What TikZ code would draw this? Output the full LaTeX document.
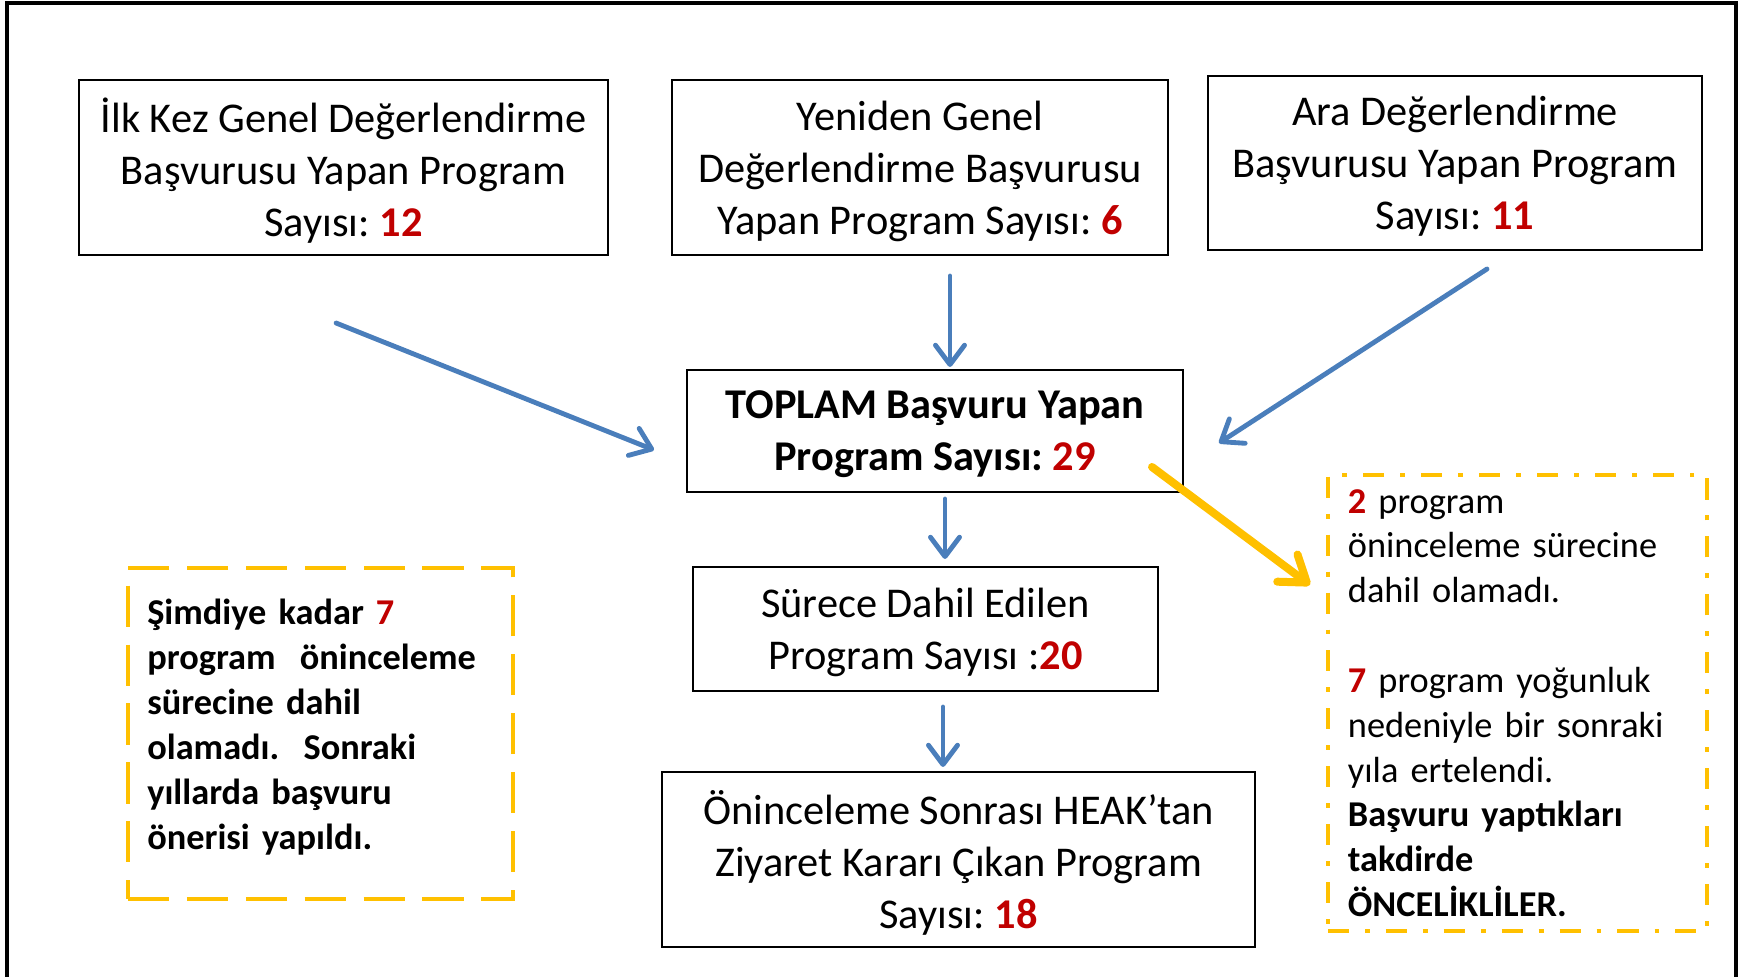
\documentclass[tikz,border=0pt]{standalone}
\usepackage{xcolor}
\usepackage{fontspec}
\setmainfont{Carlito}
\usetikzlibrary{arrows.meta,positioning}
\definecolor{numred}{HTML}{C00000}
\definecolor{flowblue}{HTML}{4A7EBB}
\definecolor{noteyellow}{HTML}{FFC000}
\newcommand{\num}[1]{\textbf{\textcolor{numred}{#1}}}
\frenchspacing

\begin{document}
\begin{tikzpicture}[x=0.4128pt, y=-0.4128pt,
	countbox/.style={draw, line width=0.85pt, align=center, inner sep=0pt, font=\fontsize{17.5}{21.5}\selectfont},
	notebox/.style={draw=noteyellow, line width=1.65pt, align=left, inner sep=0pt, font=\fontsize{15}{18.5}\selectfont},
	flow/.style={draw=flowblue, line width=2pt, line cap=round, -{Straight Barb[round, length=8pt, width=12pt]}},
	skip/.style={draw=noteyellow, line width=3.3pt, line cap=round, -{Straight Barb[round, length=10pt, width=14pt]}}]
				\useasboundingbox (0,0) rectangle (1744,977);
				\draw[line width=1.65pt] (7,977) -- (7,3) -- (1736,3) -- (1736,977);

				% applications
				\node[countbox, minimum width=218.4pt, minimum height=72.2pt] (firstapp) at (343.5,167.5) {İlk Kez Genel Değerlendirme\\ Başvurusu Yapan Program\\ \smash{Sayısı: \num{12}}};
				\node[countbox, minimum width=204.7pt, minimum height=72.2pt] (reapp) at (920,167.5) {Yeniden Genel\\ Değerlendirme Başvurusu\\ \smash{Yapan Program Sayısı: \num{6}}};
				\node[countbox, minimum width=203.9pt, minimum height=71.8pt] (midapp) at (1455,163) {Ara Değerlendirme\\ Başvurusu Yapan Program\\ \smash{Sayısı: \num{11}}};

				\node[countbox, minimum width=204.7pt, minimum height=50.4pt, font=\fontsize{17.5}{21.5}\selectfont\bfseries] (total) at (935,431) {TOPLAM Başvuru Yapan\\ \smash{Program Sayısı: \num{29}}};
				\node[countbox, minimum width=192pt, minimum height=51.2pt] (included) at (925.5,629) {Sürece Dahil Edilen\\ \smash{Program Sayısı :\num{20}}};
				\node[countbox, minimum width=244.8pt, minimum height=72.2pt] (visit) at (958.5,859.5) {Öninceleme Sonrası HEAK’tan\\ Ziyaret Kararı Çıkan Program\\ \smash{Sayısı: \num{18}}};

				% notes
				\node[notebox, dash pattern=on 17pt off 7.3pt, minimum width=158.9pt, minimum height=136.6pt, text width=143pt, font=\fontsize{15}{18.5}\selectfont\bfseries] (pastnote) at (320.5,733.5) {Şimdiye kadar \num{7}\\ program\ \ öninceleme\\ sürecine dahil\\ olamadı.\ \ Sonraki\\ yıllarda başvuru\\ önerisi yapıldı.\rule[-7.6pt]{0pt}{7.6pt}};
				\node[notebox, dash pattern=on 8.7pt off 6.6pt on 2pt off 6.6pt, minimum width=156.5pt, minimum height=188.2pt, text width=140pt] (skipnote) at (1517.5,703) {\num{2} program\\ öninceleme sürecine\\ dahil olamadı.\\[18.5pt] \num{7} program yoğunluk\\ nedeniyle bir sonraki\\ yıla ertelendi.\\ \textbf{Başvuru yaptıkları}\\ \textbf{takdirde}\\ \textbf{ÖNCELİKLİLER.}};

				% arrows
				\coordinate (firstout) at (336,323);
				\coordinate (firstin) at (654,450);
				\coordinate (reout) at (950,276);
				\coordinate (rein) at (950,367);
				\coordinate (midout) at (1487,269);
				\coordinate (midin) at (1219,443);
				\coordinate (totalout) at (945,499);
				\coordinate (includedin) at (945,559);
				\coordinate (includedout) at (943,707);
				\coordinate (visitin) at (943,767);
				\coordinate (skipout) at (1152,467);
				\coordinate (skipin) at (1310,585);

				\draw[flow] (firstout) -- (firstin);
				\draw[flow] (reout) -- (rein);
				\draw[flow] (midout) -- (midin);
				\draw[flow] (totalout) -- (includedin);
				\draw[flow] (includedout) -- (visitin);
				\draw[skip] (skipout) -- (skipin);

			\end{tikzpicture}
\end{document}
